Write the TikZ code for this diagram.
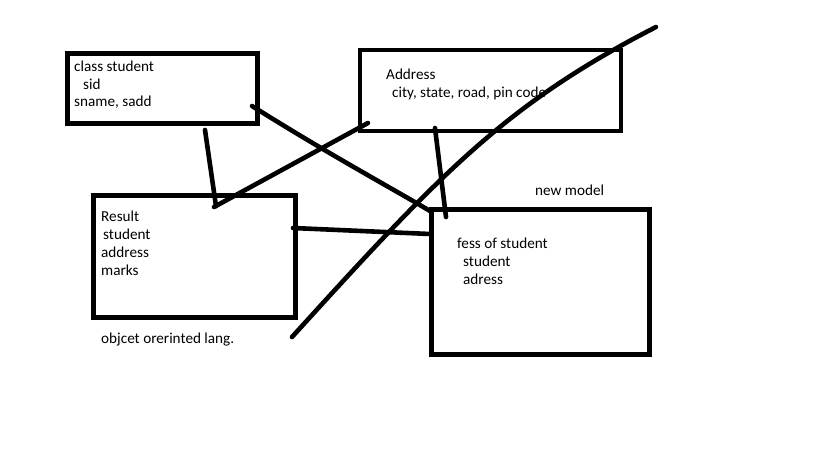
\documentclass[tikz,border=0pt]{standalone}
\usepackage{fontspec}
\setmainfont{Carlito}
\begin{document}
\begin{tikzpicture}[x=1pt,y=-1pt,
  box/.style={draw=black,line width=4.8pt,line join=miter},
  ink/.style={draw=black,line width=4.6pt,line cap=round,line join=round},
  txt/.style={anchor=base west,inner sep=0pt,font=\fontsize{15.2}{18}\selectfont,text=black}]
\useasboundingbox[fill=white] (0,0) rectangle (819,460);
% boxes
\draw[box] (67.5,53.5) rectangle (257.5,123.5);
\draw[box] (360,50) rectangle (621,131);
\draw[box] (93.5,195.5) rectangle (295.5,317.5);
\draw[box] (431.5,209.5) rectangle (649.5,354.5);
% texts
\node[txt] (t1) at (74,71) {class student};
\node[txt] (t2) at (83,89) {sid};
\node[txt] (t3) at (74,106) {sname, sadd};
\node[txt] (t4) at (386,79) {Address};
\node[txt] (t5) at (392,97) {city, state, road, pin code};
\node[txt] (t6) at (101,221) {Result};
\node[txt] (t7) at (103,239) {student};
\node[txt] (t8) at (101,257) {address};
\node[txt] (t9) at (101,275) {marks};
\node[txt] (t10) at (101,343) {objcet orerinted lang.};
\node[txt] (t11) at (535,195) {new model};
\node[txt] (t12) at (457,248) {fess of student};
\node[txt] (t13) at (463,266) {student};
\node[txt] (t14) at (463,284) {adress};
% connectors
\coordinate (a1) at (252,106);
\coordinate (a2) at (430,211);
\draw[ink] (a1) .. controls (330,155) and (395,190) .. (a2);
\coordinate (b1) at (205,130);
\coordinate (b2) at (216,206);
\draw[ink] (b1) -- (b2);
\coordinate (c1) at (214,207);
\coordinate (c2) at (368,123);
\draw[ink] (c1) -- (c2);
\coordinate (d1) at (293,228);
\coordinate (d2) at (430,234);
\draw[ink] (d1) -- (d2);
\coordinate (e1) at (435,128);
\coordinate (e2) at (446,217);
\draw[ink] (e1) -- (e2);
\coordinate (f1) at (292,337);
\coordinate (f2) at (656,27);
\draw[ink] (f1) .. controls (442,172) and (506,104) .. (f2);
\end{tikzpicture}
\end{document}
